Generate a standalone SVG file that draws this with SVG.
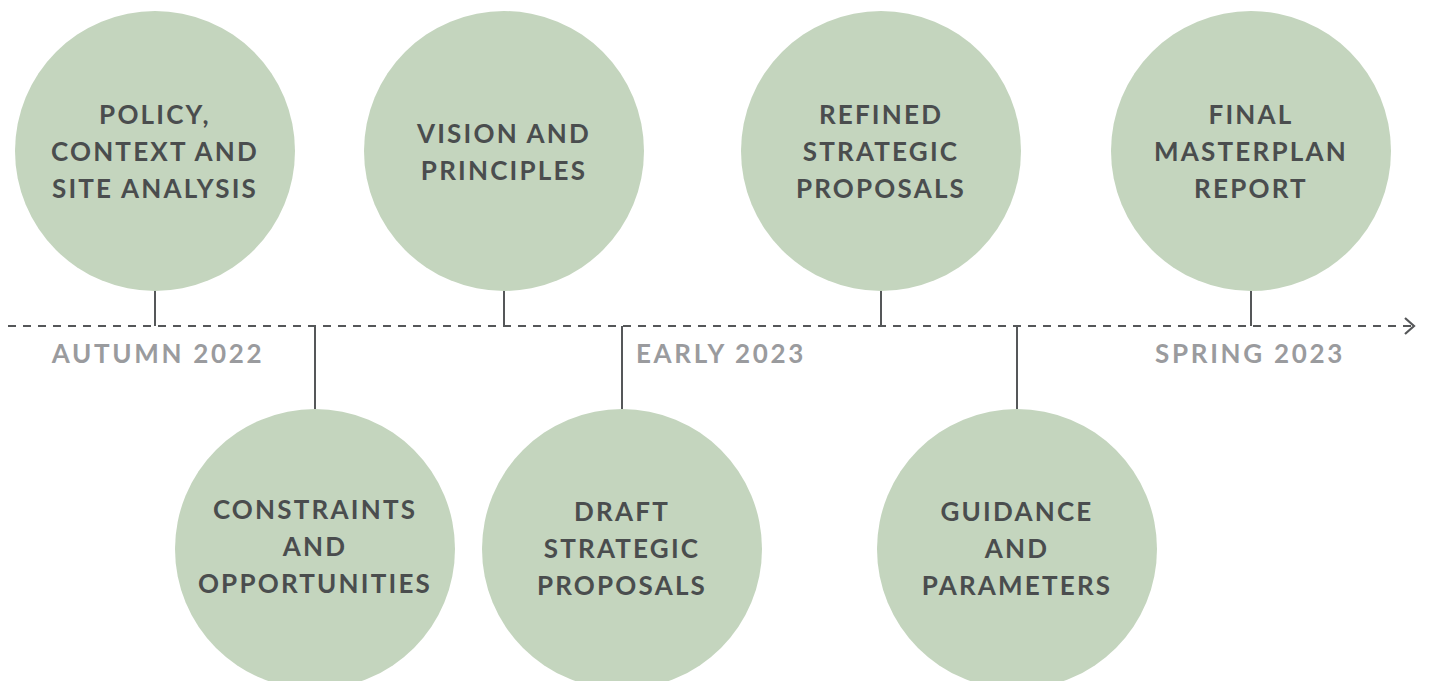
<svg xmlns="http://www.w3.org/2000/svg" width="1429" height="681" viewBox="0 0 1429 681">
<defs>
<style>
.node circle{fill:#c4d5be;}
.node text{font-family:Lato,"Noto Sans",sans-serif;font-weight:700;font-size:26px;fill:#4a4d4e;text-anchor:middle;letter-spacing:2.2px;}
.lbl{font-family:Lato,"Noto Sans",sans-serif;font-weight:700;font-size:26px;fill:#9a9b9e;text-anchor:middle;letter-spacing:2.7px;}
.conn line{stroke:#555759;stroke-width:2;}
.axis{stroke:#555759;stroke-width:2.2;stroke-dasharray:8 7;fill:none;}
</style>
</defs>
<rect width="1429" height="681" fill="#ffffff"/>
<g id="connectors" class="conn">
<line class="axis" x1="8" y1="326" x2="1412" y2="326"/>
<polyline points="1405,318 1414,326 1405,334" fill="none" stroke="#555759" stroke-width="2.2"/>
<line x1="155" y1="288" x2="155" y2="326"/>
<line x1="315" y1="326" x2="315" y2="411"/>
<line x1="504" y1="288" x2="504" y2="326"/>
<line x1="622" y1="326" x2="622" y2="411"/>
<line x1="881" y1="288" x2="881" y2="326"/>
<line x1="1017" y1="326" x2="1017" y2="411"/>
<line x1="1251" y1="288" x2="1251" y2="326"/>
</g>
<g id="node-policy" class="node">
<circle cx="155" cy="151" r="140"/>
<text x="155" y="124">POLICY,</text>
<text x="155" y="161">CONTEXT AND</text>
<text x="155" y="198">SITE ANALYSIS</text>
</g>
<g id="node-vision" class="node">
<circle cx="504" cy="151" r="140"/>
<text x="504" y="143">VISION AND</text>
<text x="504" y="180">PRINCIPLES</text>
</g>
<g id="node-refined" class="node">
<circle cx="881" cy="151" r="140"/>
<text x="881" y="124">REFINED</text>
<text x="881" y="161">STRATEGIC</text>
<text x="881" y="198">PROPOSALS</text>
</g>
<g id="node-final" class="node">
<circle cx="1251" cy="151" r="140"/>
<text x="1251" y="124">FINAL</text>
<text x="1251" y="161">MASTERPLAN</text>
<text x="1251" y="198">REPORT</text>
</g>
<g id="node-constraints" class="node">
<circle cx="315" cy="549" r="140"/>
<text x="315" y="519">CONSTRAINTS</text>
<text x="315" y="556">AND</text>
<text x="315" y="593">OPPORTUNITIES</text>
</g>
<g id="node-draft" class="node">
<circle cx="622" cy="549" r="140"/>
<text x="622" y="521">DRAFT</text>
<text x="622" y="558">STRATEGIC</text>
<text x="622" y="595">PROPOSALS</text>
</g>
<g id="node-guidance" class="node">
<circle cx="1017" cy="549" r="140"/>
<text x="1017" y="521">GUIDANCE</text>
<text x="1017" y="558">AND</text>
<text x="1017" y="595">PARAMETERS</text>
</g>
<g id="labels">
<text class="lbl" x="158" y="363">AUTUMN 2022</text>
<text class="lbl" x="721" y="363">EARLY 2023</text>
<text class="lbl" x="1250" y="363">SPRING 2023</text>
</g>
</svg>
